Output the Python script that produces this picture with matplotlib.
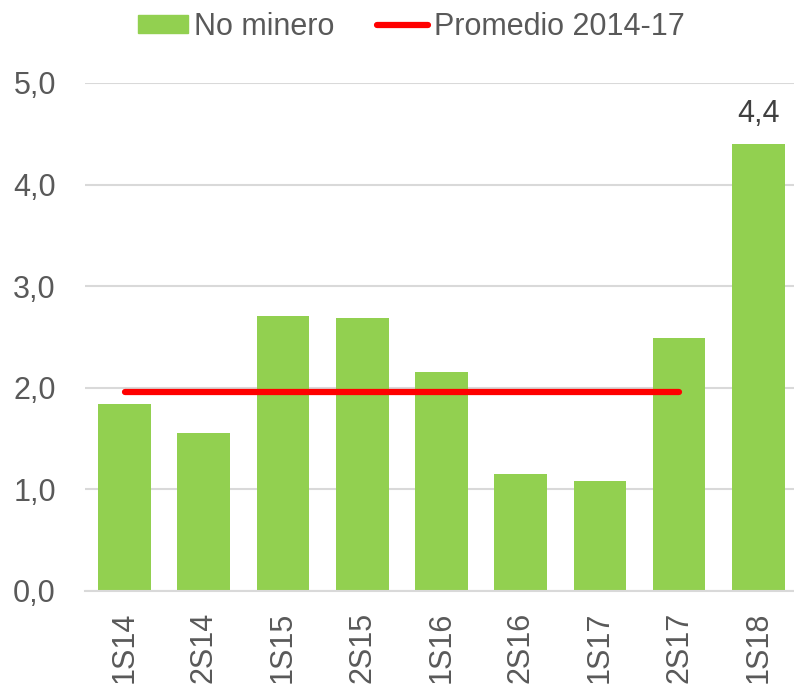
import matplotlib.pyplot as plt
from matplotlib.lines import Line2D
from matplotlib.patches import Patch

plt.rcParams['font.family'] = ['Liberation Sans', 'DejaVu Sans']

periodos = ['1S14', '2S14', '1S15', '2S15', '1S16', '2S16', '1S17', '2S17', '1S18']
no_minero = [1.84, 1.56, 2.71, 2.69, 2.16, 1.15, 1.08, 2.49, 4.4]
promedio = 1.96  # promedio 2014-17, va de 1S14 a 2S17

verde = '#92d050'
rojo = '#ff0000'
gris = '#595959'
fs = 22

fig = plt.figure(figsize=(7.94, 6.85), dpi=100)
ax = fig.add_axes([85 / 794, 1 - 591 / 685, 1 - 85 / 794, (591 - 83) / 685])

x = range(len(periodos))
ax.bar(x, no_minero, width=0.665, color=verde, zorder=2)
ax.plot([0, 7], [promedio, promedio], color=rojo, lw=4.5,
        solid_capstyle='round', zorder=3)

# etiqueta solo en la ultima barra
ax.text(8, no_minero[-1] + 0.15, '4,4', ha='center', va='bottom',
        fontsize=fs, color='#404040')

ax.set_ylim(0, 5)
ax.set_xlim(-0.5, 8.45)
ax.set_yticks([0, 1, 2, 3, 4, 5])
ax.set_yticklabels(['0,0', '1,0', '2,0', '3,0', '4,0', '5,0'])
ax.set_xticks(list(x))
ax.set_xticklabels(periodos, rotation=90)
ax.tick_params(axis='both', length=0, labelsize=fs, labelcolor=gris)
ax.tick_params(axis='x', pad=15)
ax.tick_params(axis='y', pad=21)

ax.grid(axis='y', color='#d9d9d9', lw=1.5, zorder=0)
for s in ['top', 'right', 'left']:
    ax.spines[s].set_visible(False)
ax.spines['bottom'].set_color('#d9d9d9')
ax.spines['bottom'].set_linewidth(1.5)

handles = [Patch(color=verde),
           Line2D([0], [0], color=rojo, lw=4.5, solid_capstyle='round')]
fig.legend(handles, ['No minero', 'Promedio 2014-17'], loc='center',
           bbox_to_anchor=(411 / 794, 1 - 27 / 685), ncol=2, frameon=False,
           fontsize=fs, labelcolor=gris, handlelength=1.65,
           handletextpad=0.2, columnspacing=1.4, handleheight=0.55,
           borderpad=0)

fig.savefig('out.png', dpi=100)
